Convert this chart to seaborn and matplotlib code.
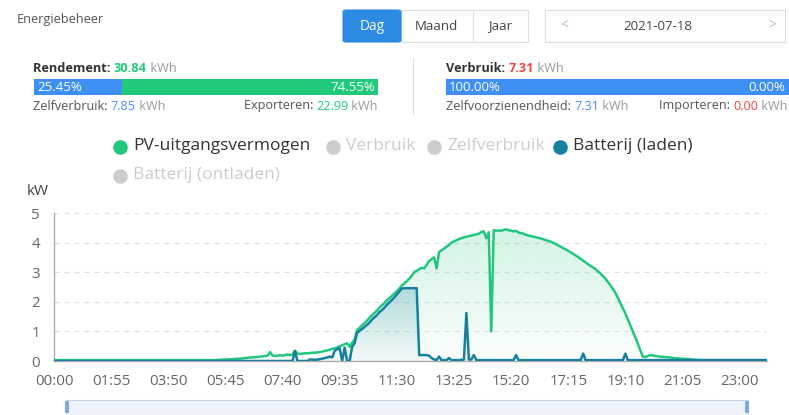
import numpy as np
import pandas as pd
import matplotlib
matplotlib.use("Agg")
import matplotlib.pyplot as plt
import seaborn as sns
from matplotlib.patches import Rectangle, FancyBboxPatch
from matplotlib.lines import Line2D
from matplotlib.colors import to_rgb

# ---------------- data (5-minute samples, 00:00 .. 23:55) ----------------
pv_kw = [
    # 00:00 - 04:55
    0.03, 0.03, 0.03, 0.03, 0.03, 0.03, 0.03, 0.03, 0.03, 0.03, 0.03, 0.03,
    0.03, 0.03, 0.03, 0.03, 0.03, 0.03, 0.03, 0.03, 0.03, 0.03, 0.03, 0.03,
    0.03, 0.03, 0.03, 0.03, 0.03, 0.03, 0.03, 0.03, 0.03, 0.03, 0.03, 0.03,
    0.03, 0.03, 0.03, 0.03, 0.03, 0.03, 0.03, 0.03, 0.03, 0.03, 0.03, 0.03,
    0.03, 0.03, 0.03, 0.03, 0.03, 0.03, 0.03, 0.03, 0.03, 0.03, 0.03, 0.03,
    # 05
    0.03, 0.03, 0.03, 0.03, 0.03, 0.03, 0.04, 0.04, 0.05, 0.05, 0.05, 0.06,
    # 06
    0.06, 0.07, 0.08, 0.08, 0.09, 0.10, 0.11, 0.12, 0.12, 0.13, 0.14, 0.15,
    # 07
    0.16, 0.17, 0.18, 0.30, 0.18, 0.17, 0.18, 0.20, 0.18, 0.20, 0.22, 0.20,
    # 08
    0.22, 0.35, 0.25, 0.24, 0.25, 0.26, 0.26, 0.27, 0.28, 0.28, 0.29, 0.30,
    # 09
    0.32, 0.34, 0.36, 0.38, 0.41, 0.43, 0.46, 0.50, 0.53, 0.57, 0.60, 0.48,
    # 10
    0.62, 0.72, 1.05, 1.12, 1.20, 1.28, 1.36, 1.46, 1.55, 1.62, 1.70, 1.80,
    # 11
    1.88, 1.96, 2.05, 2.12, 2.20, 2.28, 2.36, 2.44, 2.55, 2.62, 2.70, 2.78,
    # 12
    2.88, 3.00, 3.05, 3.10, 3.15, 3.13, 3.25, 3.38, 3.44, 3.50, 3.13, 3.68,
    # 13
    3.74, 3.80, 3.86, 3.92, 4.00, 4.04, 4.08, 4.12, 4.15, 4.18, 4.20, 4.22,
    # 14
    4.24, 4.26, 4.28, 4.30, 4.36, 4.38, 4.15, 4.35, 1.00, 4.42, 4.40, 4.41,
    # 15
    4.40, 4.43, 4.45, 4.42, 4.40, 4.38, 4.40, 4.34, 4.32, 4.30, 4.26, 4.24,
    # 16
    4.22, 4.20, 4.18, 4.16, 4.14, 4.11, 4.08, 4.06, 4.03, 3.99, 3.95, 3.90,
    # 17
    3.86, 3.81, 3.77, 3.72, 3.67, 3.62, 3.56, 3.51, 3.45, 3.39, 3.33, 3.27,
    # 18
    3.21, 3.16, 3.10, 3.03, 2.95, 2.87, 2.78, 2.67, 2.55, 2.43, 2.30, 2.13,
    # 19
    1.95, 1.78, 1.60, 1.40, 1.20, 1.00, 0.80, 0.58, 0.35, 0.15, 0.13, 0.17,
    # 20
    0.20, 0.19, 0.17, 0.16, 0.14, 0.14, 0.13, 0.13, 0.12, 0.11, 0.09, 0.09,
    # 21
    0.08, 0.08, 0.07, 0.07, 0.06, 0.05, 0.04, 0.04, 0.03, 0.03, 0.03, 0.03,
    # 22 - 23
    0.03, 0.03, 0.03, 0.03, 0.03, 0.03, 0.03, 0.03, 0.03, 0.03, 0.03, 0.03,
    0.03, 0.03, 0.03, 0.03, 0.03, 0.03, 0.03, 0.03, 0.03, 0.03, 0.03, 0.03,
]

battery_kw = [
    # 00 - 07
    0, 0, 0, 0, 0, 0, 0, 0, 0, 0, 0, 0,
    0, 0, 0, 0, 0, 0, 0, 0, 0, 0, 0, 0,
    0, 0, 0, 0, 0, 0, 0, 0, 0, 0, 0, 0,
    0, 0, 0, 0, 0, 0, 0, 0, 0, 0, 0, 0,
    0, 0, 0, 0, 0, 0, 0, 0, 0, 0, 0, 0,
    0, 0, 0, 0, 0, 0, 0, 0, 0, 0, 0, 0,
    0, 0, 0, 0, 0, 0, 0, 0, 0, 0, 0, 0,
    0, 0, 0, 0, 0, 0, 0, 0, 0, 0, 0, 0,
    # 08
    0.00, 0.33, 0.00, 0.00, 0.00, 0.00, 0.00, 0.05, 0.05, 0.04, 0.05, 0.06,
    # 09
    0.08, 0.10, 0.12, 0.15, 0.12, 0.35, 0.40, 0.43, 0.00, 0.45, 0.00, 0.00,
    # 10
    0.48, 0.60, 0.95, 1.02, 1.08, 1.15, 1.22, 1.30, 1.40, 1.48, 1.55, 1.65,
    # 11
    1.72, 1.80, 1.90, 1.98, 2.06, 2.15, 2.25, 2.35, 2.45, 2.46, 2.46, 2.46,
    # 12
    2.46, 2.46, 2.46, 0.20, 0.20, 0.20, 0.20, 0.18, 0.10, 0.05, 0.04, 0.15,
    # 13
    0.03, 0.03, 0.03, 0.10, 0.03, 0.03, 0.03, 0.03, 0.04, 0.05, 1.62, 0.05,
    # 14
    0.05, 0.20, 0.03, 0.03, 0.03, 0.03, 0.03, 0.03, 0.03, 0.03, 0.03, 0.03,
    # 15
    0.03, 0.03, 0.03, 0.03, 0.03, 0.03, 0.20, 0.03, 0.03, 0.03, 0.03, 0.03,
    # 16
    0.03, 0.03, 0.03, 0.03, 0.03, 0.03, 0.03, 0.03, 0.03, 0.03, 0.03, 0.03,
    # 17
    0.03, 0.03, 0.03, 0.03, 0.03, 0.03, 0.03, 0.03, 0.03, 0.25, 0.03, 0.03,
    # 18
    0.03, 0.03, 0.03, 0.03, 0.03, 0.03, 0.03, 0.03, 0.03, 0.03, 0.03, 0.03,
    # 19
    0.03, 0.03, 0.25, 0.03, 0.03, 0.03, 0.03, 0.03, 0.03, 0.03, 0.03, 0.03,
    # 20 - 23
    0.03, 0.03, 0.03, 0.03, 0.03, 0.03, 0.03, 0.03, 0.03, 0.03, 0.03, 0.03,
    0.03, 0.03, 0.03, 0.03, 0.03, 0.03, 0.03, 0.03, 0.03, 0.03, 0.03, 0.03,
    0.03, 0.03, 0.03, 0.03, 0.03, 0.03, 0.03, 0.03, 0.03, 0.03, 0.03, 0.03,
    0.03, 0.03, 0.03, 0.03, 0.03, 0.03, 0.03, 0.03, 0.03, 0.03, 0.03, 0.03,
]

time_labels = ["00:00", "01:55", "03:50", "05:45", "07:40", "09:35", "11:30",
               "13:25", "15:20", "17:15", "19:10", "21:05", "23:00"]
y_ticks = [0, 1, 2, 3, 4, 5]
legend_items = ["PV-uitgangsvermogen", "Verbruik", "Zelfverbruik",
                "Batterij (laden)", "Batterij (ontladen)"]
legend_active = [True, False, False, True, False]

rendement_kwh = "30.84"
zelfverbruik_kwh = "7.85"
exporteren_kwh = "22.99"
zelf_pct = 25.45
export_pct = 74.55
verbruik_kwh = "7.31"
zelfvoorz_kwh = "7.31"
importeren_kwh = "0.00"
zelfvoorz_pct = 100.00
import_pct = 0.00
date_str = "2021-07-18"

# ---------------- style ----------------
sns.set_style("white")
plt.rcParams["font.family"] = ["Open Sans", "DejaVu Sans"]

PV_COLOR = "#22c77e"
BAT_COLOR = "#15819f"
GRAY_LEG = "#cccccc"
BLUE_BAR = "#3d8ff2"
GREEN_BAR = "#20c97c"
RED = "#f2453d"
BLUE_TXT = "#4a90f0"

W, H = 789, 415
fig = plt.figure(figsize=(W / 100, H / 100), dpi=100)
fig.patch.set_facecolor("white")


def X(px):
    return px / W


def Y(py):
    return 1 - py / H


renderer = fig.canvas.get_renderer()


def seq(x, y, parts, size, ha="left"):
    objs = []
    for t, c, w in parts:
        objs.append(fig.text(X(x), Y(y), t, color=c, fontsize=size,
                             fontweight=w, va="center", ha="left"))
    widths = [o.get_window_extent(renderer).width for o in objs]
    cur = x if ha == "left" else x - sum(widths)
    for o, wd in zip(objs, widths):
        o.set_x(X(cur))
        cur += wd


def rect(x0, y0, x1, y1, fc, ec="none", lw=0.8, rounded=0.0, z=1):
    if rounded > 0:
        p = FancyBboxPatch((X(x0), Y(y1)), X(x1) - X(x0), Y(y0) - Y(y1),
                           boxstyle=f"round,pad=0,rounding_size={rounded}",
                           transform=fig.transFigure, facecolor=fc,
                           edgecolor=ec, lw=lw, zorder=z)
    else:
        p = Rectangle((X(x0), Y(y1)), X(x1) - X(x0), Y(y0) - Y(y1),
                      transform=fig.transFigure, facecolor=fc, edgecolor=ec,
                      lw=lw, zorder=z)
    fig.add_artist(p)


# ---------------- header ----------------
fig.text(X(17), Y(20), "Energiebeheer", fontsize=9.2, color="#555555", va="center")

rect(401, 10, 528, 42, "white", ec="#dddddd", lw=0.8)
fig.add_artist(Line2D([X(473), X(473)], [Y(10), Y(42)], color="#dddddd", lw=0.8,
                      transform=fig.transFigure))
rect(343, 10, 401, 42, "#2b8be3", ec="#2b8be3", rounded=0.004)
fig.text(X(372), Y(26), "Dag", fontsize=9.8, color="white", ha="center", va="center")
fig.text(X(436), Y(26), "Maand", fontsize=9.5, color="#444444", ha="center", va="center")
fig.text(X(500), Y(26), "Jaar", fontsize=9.5, color="#444444", ha="center", va="center")

rect(545, 10, 785, 42, "white", ec="#dddddd", lw=0.8)
fig.text(X(564), Y(26), "<", fontsize=10, color="#bbbbbb", ha="center", va="center")
fig.text(X(658), Y(26), date_str, fontsize=9.5, color="#444444", ha="center", va="center")
fig.text(X(772), Y(26), ">", fontsize=10, color="#bbbbbb", ha="center", va="center")

# Rendement block
seq(33, 69, [("Rendement: ", "#333333", "bold"), (rendement_kwh, GREEN_BAR, "bold"),
             (" kWh", "#9a9a9a", "normal")], 9.2)
bx0, bx1 = 34, 378
split = bx0 + (bx1 - bx0) * zelf_pct / 100
rect(bx0, 79, split, 95, BLUE_BAR)
rect(split, 79, bx1, 95, GREEN_BAR)
fig.text(X(bx0 + 3), Y(87.5), f"{zelf_pct:.2f}%", fontsize=9.5, color="white", va="center")
fig.text(X(bx1 - 3), Y(87.5), f"{export_pct:.2f}%", fontsize=9.5, color="white",
         va="center", ha="right")
seq(33, 106, [("Zelfverbruik: ", "#555555", "normal"), (zelfverbruik_kwh, BLUE_TXT, "normal"),
              (" kWh", "#9a9a9a", "normal")], 9.1)
seq(378, 106, [("Exporteren: ", "#555555", "normal"), (exporteren_kwh, GREEN_BAR, "normal"),
               (" kWh", "#9a9a9a", "normal")], 9.1, ha="right")

fig.add_artist(Line2D([X(413), X(413)], [Y(58), Y(114)], color="#dddddd", lw=0.8,
                      transform=fig.transFigure))

# Verbruik block
seq(446, 69, [("Verbruik: ", "#333333", "bold"), (verbruik_kwh, RED, "bold"),
              (" kWh", "#9a9a9a", "normal")], 9.2)
vx0, vx1 = 446, 789
vsplit = vx0 + (vx1 - vx0) * zelfvoorz_pct / 100
rect(vx0, 79, vsplit, 95, BLUE_BAR)
fig.text(X(vx0 + 3), Y(87.5), f"{zelfvoorz_pct:.2f}%", fontsize=9.5, color="white", va="center")
fig.text(X(785), Y(87.5), f"{import_pct:.2f}%", fontsize=9.5, color="white",
         va="center", ha="right")
seq(446, 106, [("Zelfvoorzienendheid: ", "#555555", "normal"), (zelfvoorz_kwh, BLUE_TXT, "normal"),
               (" kWh", "#9a9a9a", "normal")], 9.1)
seq(788, 106, [("Importeren: ", "#555555", "normal"), (importeren_kwh, RED, "normal"),
               (" kWh", "#9a9a9a", "normal")], 9.1, ha="right")

# ---------------- legend ----------------
leg_pos = [(120, 147), (333, 147), (434, 147), (560, 147), (120, 176)]
leg_colors = [PV_COLOR, GRAY_LEG, GRAY_LEG, BAT_COLOR, GRAY_LEG]
for (lx, ly), name, col, act in zip(leg_pos, legend_items, leg_colors, legend_active):
    fig.add_artist(Line2D([X(lx)], [Y(ly)], marker="o", markersize=10.5, color=col,
                          markeredgewidth=0, linestyle="none", transform=fig.transFigure))
    fig.text(X(lx + 13), Y(ly - 1), name, fontsize=12.5, color="#333333" if act else GRAY_LEG,
             va="center", ha="left")

fig.text(X(38), Y(191), "kW", fontsize=11, color="#444444", ha="center", va="center")

# ---------------- chart ----------------
idx = np.arange(len(pv_kw))
df = pd.DataFrame({"idx": idx, "pv": pv_kw, "bat": battery_kw})

ax = fig.add_axes([X(54), Y(361), (767 - 54) / W, (361 - 213) / H])
ax.set_facecolor("none")


def gradient_fill(ax, x, y, color, a_top, a_bot, z):
    coll = ax.fill_between(x, 0, y, facecolor="none", edgecolor="none")
    path = coll.get_paths()[0]
    n = 256
    rgba = np.zeros((n, 1, 4))
    rgba[..., :3] = to_rgb(color)
    rgba[..., 3] = np.linspace(a_top, a_bot, n).reshape(-1, 1)
    im = ax.imshow(rgba, extent=[x[0], x[-1], 0, max(y)], origin="upper",
                   aspect="auto", zorder=z, interpolation="bilinear")
    im.set_clip_path(path, transform=ax.transData)
    coll.remove()


gradient_fill(ax, df["idx"].values, df["pv"].values, PV_COLOR, 0.20, 0.02, 1)
gradient_fill(ax, df["idx"].values, df["bat"].values, BAT_COLOR, 0.24, 0.03, 2)

sns.lineplot(data=df, x="idx", y="pv", ax=ax, color=PV_COLOR, linewidth=1.8, zorder=4)
sns.lineplot(data=df, x="idx", y="bat", ax=ax, color=BAT_COLOR, linewidth=1.8, zorder=5)

ax.set_xlim(0, len(pv_kw) - 1)
ax.set_ylim(0, 5)
ax.set_xlabel("")
ax.set_ylabel("")
ax.set_xticks(np.arange(0, len(pv_kw), 23)[:len(time_labels)])
ax.set_xticklabels(time_labels)
ax.set_yticks(y_ticks)
ax.set_yticklabels([str(v) for v in y_ticks])
ax.tick_params(axis="x", length=4, color="#999999", labelsize=10.8,
               labelcolor="#666666", pad=5, direction="out")
ax.tick_params(axis="y", length=0, labelsize=10.8, labelcolor="#666666", pad=10)
for v in y_ticks[1:]:
    ax.axhline(v, color="#e0e0e0", lw=0.9, linestyle=(0, (4, 4)), zorder=0)
for s in ["top", "right"]:
    ax.spines[s].set_visible(False)
for s in ["left", "bottom"]:
    ax.spines[s].set_color("#aaaaaa")
    ax.spines[s].set_linewidth(1.0)

# ---------------- zoom slider ----------------
rect(66, 400, 748, 420, "#eef2fb", ec="#c9d2e4", lw=0.8)
for hx in (67, 747):
    rect(hx - 2, 401, hx + 2, 413, "#7fa6e8", rounded=0.002, z=3)

fig.savefig("out.png", dpi=100, facecolor="white")
